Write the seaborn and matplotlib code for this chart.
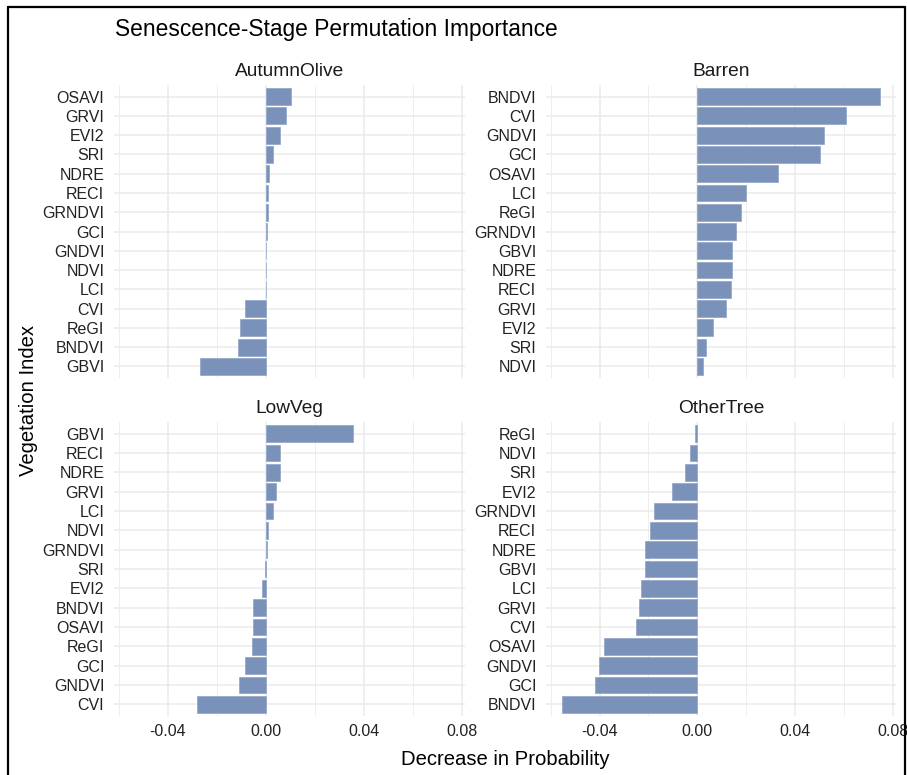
import numpy as np
import pandas as pd
import matplotlib
matplotlib.use("Agg")
import matplotlib.pyplot as plt
from matplotlib.lines import Line2D
import seaborn as sns

# permutation importance per class, listed top to bottom as in the panels
autumn_olive_idx = ["OSAVI", "GRVI", "EVI2", "SRI", "NDRE", "RECI", "GRNDVI", "GCI",
                    "GNDVI", "NDVI", "LCI", "CVI", "ReGI", "BNDVI", "GBVI"]
autumn_olive_val = [0.0103, 0.0082, 0.0057, 0.0030, 0.0014, 0.0008, 0.0007, 0.0003,
                    0.0002, 0.0001, 0.00005, -0.0083, -0.0105, -0.0114, -0.0269]

barren_idx = ["BNDVI", "CVI", "GNDVI", "GCI", "OSAVI", "LCI", "ReGI", "GRNDVI",
              "GBVI", "NDRE", "RECI", "GRVI", "EVI2", "SRI", "NDVI"]
barren_val = [0.0747, 0.0607, 0.0517, 0.0502, 0.0329, 0.0199, 0.0178, 0.0156,
              0.0142, 0.0141, 0.0136, 0.0116, 0.0063, 0.0037, 0.0022]

lowveg_idx = ["GBVI", "RECI", "NDRE", "GRVI", "LCI", "NDVI", "GRNDVI", "SRI",
              "EVI2", "BNDVI", "OSAVI", "ReGI", "GCI", "GNDVI", "CVI"]
lowveg_val = [0.0357, 0.0058, 0.0057, 0.0040, 0.0030, 0.0009, 0.0004, -0.0005,
              -0.0016, -0.0052, -0.0053, -0.0058, -0.0084, -0.0109, -0.0280]

othertree_idx = ["ReGI", "NDVI", "SRI", "EVI2", "GRNDVI", "RECI", "NDRE", "GBVI",
                 "LCI", "GRVI", "CVI", "OSAVI", "GNDVI", "GCI", "BNDVI"]
othertree_val = [-0.0010, -0.0031, -0.0052, -0.0105, -0.0178, -0.0195, -0.0214, -0.0215,
                 -0.0231, -0.0237, -0.0252, -0.0382, -0.0403, -0.0419, -0.0554]

classes = ["AutumnOlive", "Barren", "LowVeg", "OtherTree"]
class_idx = [autumn_olive_idx, barren_idx, lowveg_idx, othertree_idx]
class_val = [autumn_olive_val, barren_val, lowveg_val, othertree_val]

df = pd.concat([pd.DataFrame({"class": c, "index": i, "importance": v})
                for c, i, v in zip(classes, class_idx, class_val)], ignore_index=True)

sns.set_theme(style="white")
plt.rcParams["font.family"] = ["Liberation Sans", "DejaVu Sans"]

W, H = 907, 775
fig = plt.figure(figsize=(W / 100, H / 100), dpi=100)

# panel boxes in pixels: left, top, right, bottom
boxes = [(114, 85, 465, 378), (546, 85, 896, 378),
         (114, 422, 465, 716), (546, 422, 896, 716)]

lo, hi = df["importance"].min(), df["importance"].max()
pad = (hi - lo) * 0.05
xlim = (lo - pad, hi + pad)

bar_color = "#7A92B9"
grid_color = "#EBEBEB"

for k, (cls, box) in enumerate(zip(classes, boxes)):
    l, t, r, b = box
    ax = fig.add_axes([l / W, 1 - b / H, (r - l) / W, (b - t) / H])
    sub = df[df["class"] == cls]
    # edge in the fill colour so near-zero bars still show as a thin line
    sns.barplot(data=sub, x="importance", y="index", order=list(sub["index"]),
                color=bar_color, saturation=1, edgecolor="#8FA3C6", linewidth=0.5,
                width=0.87, orient="h", ax=ax, zorder=3)
    n = len(sub)
    ax.set_xlim(xlim)
    ax.set_ylim(n - 0.4, -0.6)
    ax.set_xticks([-0.04, 0.0, 0.04, 0.08])
    ax.set_xticks([-0.06, -0.02, 0.02, 0.06], minor=True)
    ax.grid(which="major", axis="both", color=grid_color, lw=1.1, zorder=0)
    ax.grid(which="minor", axis="x", color=grid_color, lw=0.6, zorder=0)
    ax.set_axisbelow(True)
    for s in ax.spines.values():
        s.set_visible(False)
    ax.tick_params(axis="both", which="both", length=0, labelsize=11.5,
                   labelcolor="#222222")
    ax.tick_params(axis="y", pad=7)
    ax.tick_params(axis="x", pad=6)
    ax.set_xticklabels(["-0.04", "0.00", "0.04", "0.08"])
    if k < 2:
        ax.tick_params(axis="x", labelbottom=False)
    ax.set_xlabel("")
    ax.set_ylabel("")
    # facet strip label
    fig.text((l + r) / 2 / W, 1 - (t - 9) / H, cls, ha="center", va="baseline",
             fontsize=13.8, color="#1A1A1A")

fig.text(115 / W, 1 - 36 / H, "Senescence-Stage Permutation Importance",
         ha="left", va="baseline", fontsize=16.4, color="black")
fig.text(505 / W, 1 - 765 / H, "Decrease in Probability", ha="center",
         va="baseline", fontsize=14.6, color="black")
fig.text(29 / W, 1 - 401 / H, "Vegetation Index", ha="center", va="center",
         rotation=90, fontsize=14.6, color="black")

# screenshot frame (no bottom edge)
for (x0, y0), (x1, y1) in [((8, 775), (8, 7)), ((8, 7), (905, 7)), ((905, 7), (905, 775))]:
    fig.add_artist(Line2D([x0 / W, x1 / W], [1 - y0 / H, 1 - y1 / H],
                          transform=fig.transFigure, color="black", lw=1.6))

fig.savefig("out.png", dpi=100)
